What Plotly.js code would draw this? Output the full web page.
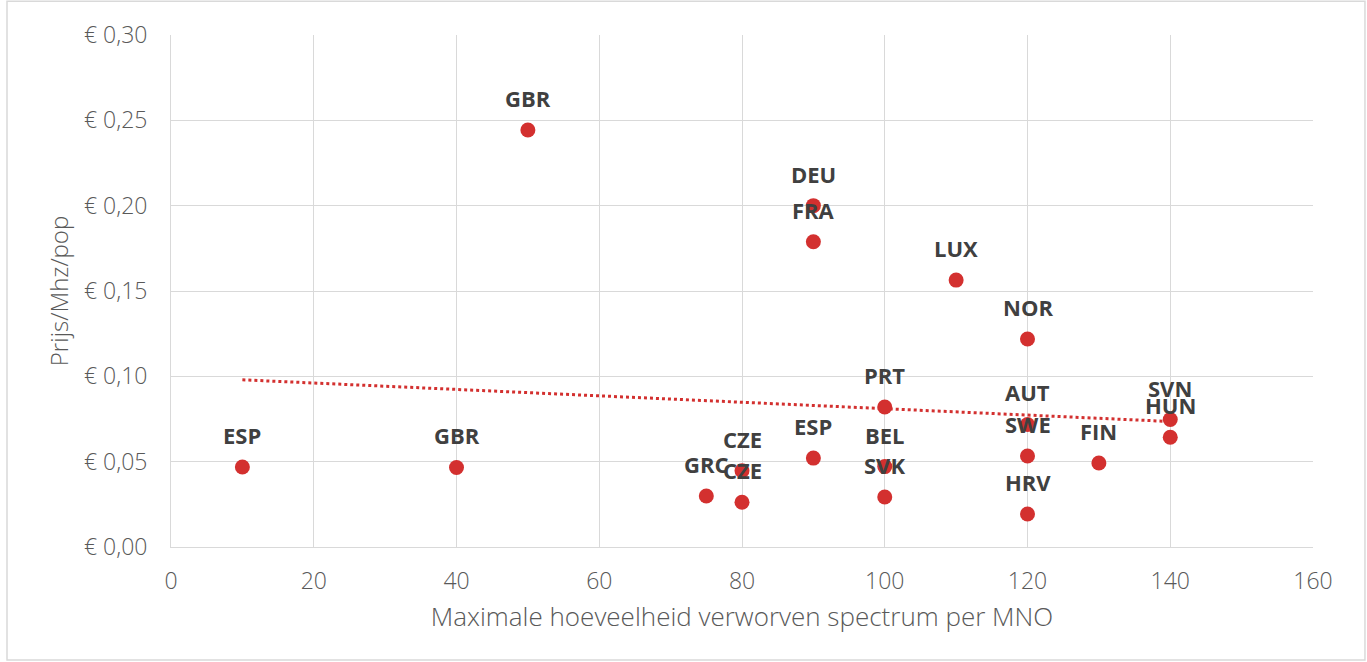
<!DOCTYPE html>
<html>
<head>
<meta charset="utf-8">
<script src="https://cdn.plot.ly/plotly-3.0.1.min.js"></script>
<style>
  html, body { margin: 0; padding: 0; background: #ffffff; }
  #chart { width: 1367px; height: 662px; }
</style>
</head>
<body>
<div id="chart"></div>
<script>
// Data
const countries = ["ESP", "GBR", "GBR", "GRC", "CZE", "CZE", "ESP", "DEU", "FRA", "PRT", "BEL", "SVK", "LUX", "NOR", "AUT", "SWE", "HRV", "FIN", "SVN", "HUN"];
const spectrum  = [10, 40, 50, 75, 80, 80, 90, 90, 90, 100, 100, 100, 110, 120, 120, 120, 120, 130, 140, 140];
const pricePerMhzPop = [0.0469, 0.0466, 0.2443, 0.0299, 0.0447, 0.0262, 0.0521, 0.2000, 0.1789, 0.0820, 0.0471, 0.0293, 0.1564, 0.1219, 0.0718, 0.0533, 0.0193, 0.0492, 0.0747, 0.0643];

// Linear trendline (least squares), like the spreadsheet's trendline
function linearFit(xs, ys) {
  const n = xs.length;
  const mx = xs.reduce((a, b) => a + b, 0) / n;
  const my = ys.reduce((a, b) => a + b, 0) / n;
  let sxy = 0, sxx = 0;
  for (let i = 0; i < n; i++) { sxy += (xs[i] - mx) * (ys[i] - my); sxx += (xs[i] - mx) ** 2; }
  const slope = sxy / sxx;
  return { slope: slope, intercept: my - slope * mx };
}
const fit = linearFit(spectrum, pricePerMhzPop);
const trendX = [Math.min(...spectrum), Math.max(...spectrum)];
const trendY = trendX.map(x => fit.intercept + fit.slope * x);

const red = "#d3302f";
const gridColor = "#d9d9d9";
const textColor = "#595959";
const axisFont = "Open Sans, Lato, sans-serif";

const traces = [
  {
    x: trendX, y: trendY, type: "scatter", mode: "lines",
    line: { color: red, width: 3, dash: "dot" },
    hoverinfo: "skip", showlegend: false
  },
  {
    x: spectrum, y: pricePerMhzPop, type: "scatter", mode: "markers",
    marker: { color: red, size: 15 },
    text: countries, showlegend: false
  }
];

const annotations = countries.map((c, i) => ({
  x: spectrum[i], y: pricePerMhzPop[i], xref: "x", yref: "y",
  text: "<b>" + c + "</b>", showarrow: false, yshift: 32,
  font: { family: "Open Sans, Lato, sans-serif", size: 22, color: "#404040" }
}));

const layout = {
  width: 1367, height: 662,
  margin: { l: 171, r: 54, t: 35, b: 115, pad: 0 },
  paper_bgcolor: "#ffffff", plot_bgcolor: "#ffffff",
  separators: ", ",
  showlegend: false,
  font: { family: axisFont, color: textColor },
  xaxis: {
    range: [0, 160], dtick: 20, tick0: 0,
    showgrid: true, gridcolor: gridColor, gridwidth: 1,
    zeroline: true, zerolinecolor: gridColor, zerolinewidth: 1,
    showline: true, linecolor: gridColor, mirror: false,
    ticks: "outside", ticklen: 13, tickcolor: "rgba(0,0,0,0)",
    tickfont: { family: axisFont, size: 23, color: textColor, weight: 300 },
    title: { text: "Maximale hoeveelheid verworven spectrum per MNO", standoff: 13,
             font: { family: axisFont, size: 26, color: textColor, weight: 300 } }
  },
  yaxis: {
    range: [0, 0.30], dtick: 0.05, tick0: 0,
    tickformat: ".2f", tickprefix: "€ ",
    showgrid: true, gridcolor: gridColor, gridwidth: 1,
    zeroline: true, zerolinecolor: gridColor, zerolinewidth: 1,
    showline: true, linecolor: gridColor,
    ticks: "outside", ticklen: 18, tickcolor: "rgba(0,0,0,0)",
    tickfont: { family: axisFont, size: 23, color: textColor, weight: 300 },
    title: { text: "Prijs/Mhz/pop", standoff: 8,
             font: { family: axisFont, size: 24, color: textColor, weight: 300 } }
  },
  annotations: annotations,
  shapes: [
    { type: "rect", xref: "paper", yref: "paper",
      x0: -0.1436, x1: 1.0455, y0: -0.2207, y1: 1.066,
      line: { color: gridColor, width: 1.5 }, fillcolor: "rgba(0,0,0,0)", layer: "below" }
  ]
};

Plotly.newPlot("chart", traces, layout, { displayModeBar: false, staticPlot: true });
</script>
</body>
</html>
